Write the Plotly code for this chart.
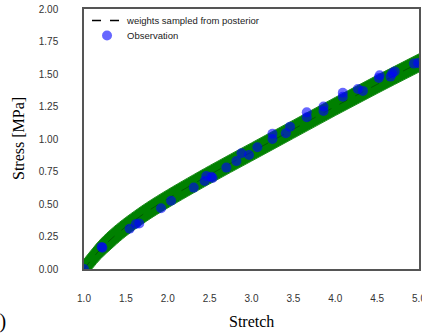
import plotly.graph_objects as go

# Posterior band
band_x = [1.0, 1.1, 1.2, 1.35, 1.5, 1.75, 2.0, 2.5, 3.0, 3.5, 4.0, 4.5, 5.0]
band_mean = [0.0, 0.08, 0.155, 0.245, 0.325, 0.44, 0.54, 0.725, 0.90, 1.075, 1.25, 1.42, 1.585]
band_upper = [0.075, 0.155, 0.23, 0.32, 0.397, 0.51, 0.61, 0.795, 0.97, 1.145, 1.32, 1.49, 1.655]
band_lower = [-0.075, 0.005, 0.08, 0.17, 0.253, 0.37, 0.47, 0.655, 0.83, 1.005, 1.18, 1.35, 1.515]

# Observations
obs_x = [1.0, 1.22, 1.21, 1.545, 1.62, 1.66, 1.92, 2.04, 2.31, 2.44, 2.46, 2.52, 2.535,
         2.70, 2.82, 2.88, 2.97, 3.07, 3.25, 3.25, 3.41, 3.46, 3.66, 3.66, 3.86, 3.86,
         4.09, 4.09, 4.27, 4.33, 4.53, 4.52, 4.66, 4.71, 4.68, 4.94, 4.99]
obs_y = [0.0, 0.164, 0.17, 0.31, 0.346, 0.35, 0.467, 0.525, 0.626, 0.677, 0.715, 0.71, 0.70,
         0.78, 0.83, 0.89, 0.877, 0.936, 1.04, 1.0, 1.044, 1.095, 1.205, 1.167, 1.25, 1.215,
         1.356, 1.325, 1.385, 1.37, 1.49, 1.47, 1.48, 1.52, 1.505, 1.58, 1.585]

x_ticks = [1.0, 1.5, 2.0, 2.5, 3.0, 3.5, 4.0, 4.5, 5.0]
y_ticks = [0.0, 0.25, 0.5, 0.75, 1.0, 1.25, 1.5, 1.75, 2.0]

fig = go.Figure()

fig.add_trace(go.Scatter(x=band_x, y=band_lower, mode="lines", line=dict(color="#1a8c1a", width=1, shape="spline"),
                         showlegend=False, hoverinfo="skip"))
fig.add_trace(go.Scatter(x=band_x, y=band_upper, mode="lines", line=dict(color="#1a8c1a", width=1, shape="spline"),
                         fill="tonexty", fillcolor="#008000", showlegend=False, hoverinfo="skip"))
fig.add_trace(go.Scatter(x=band_x, y=band_mean, mode="lines",
                         line=dict(color="rgba(0,0,0,0.3)", width=1, dash="dash", shape="spline"),
                         showlegend=False, hoverinfo="skip"))
fig.add_trace(go.Scatter(x=[None], y=[None], mode="lines", name="weights sampled from posterior",
                         line=dict(color="black", width=1.5, dash="dash"), legend="legend"))
fig.add_trace(go.Scatter(x=obs_x, y=obs_y, mode="markers", name="Observation",
                         marker=dict(color="rgba(0,0,255,0.6)", size=10, line=dict(width=0)), legend="legend2"))

axis_common = dict(showgrid=False, zeroline=False, showline=True, mirror=True, automargin=False,
                   linecolor="#555555", linewidth=1.5, ticks="outside",
                   tickcolor="rgba(0,0,0,0)", ticklabeloverflow="allow",
                   tickfont=dict(family="Liberation Sans, Arial", size=10, color="#333333"))

legend_font = dict(family="Liberation Sans, Arial", size=9.5, color="#222222")

fig.update_layout(
    width=422, height=333,
    margin=dict(l=84, r=3, t=9, b=64, autoexpand=False),
    plot_bgcolor="white", paper_bgcolor="white",
    xaxis=dict(range=[1.0, 5.0], tickvals=x_ticks, ticktext=["%.1f" % v for v in x_ticks], ticklen=19, **axis_common),
    yaxis=dict(range=[0.0, 2.0], tickvals=y_ticks, ticktext=["%.2f" % v for v in y_ticks], ticklen=22, **axis_common),
    legend=dict(x=0.009, y=1.012, xanchor="left", yanchor="top", bgcolor="rgba(0,0,0,0)", font=legend_font),
    legend2=dict(x=0.009, y=0.954, xanchor="left", yanchor="top", bgcolor="rgba(0,0,0,0)", font=legend_font),
    annotations=[
        dict(text="Stretch", xref="paper", yref="paper", x=0.5, y=-0.2, xanchor="center", yanchor="middle",
             showarrow=False, font=dict(family="Liberation Serif, Times New Roman", size=16, color="black")),
        dict(text="Stress [MPa]", xref="paper", yref="paper", x=-0.197, y=0.5, xanchor="center", yanchor="middle",
             textangle=-90, showarrow=False, font=dict(family="Liberation Serif, Times New Roman", size=16, color="black")),
        dict(text="(a)", xref="paper", yref="paper", x=-0.228, y=-0.202, xanchor="right", yanchor="middle",
             showarrow=False, font=dict(family="Liberation Serif, Times New Roman", size=20, color="black")),
    ],
)

fig.write_html("out.html")
